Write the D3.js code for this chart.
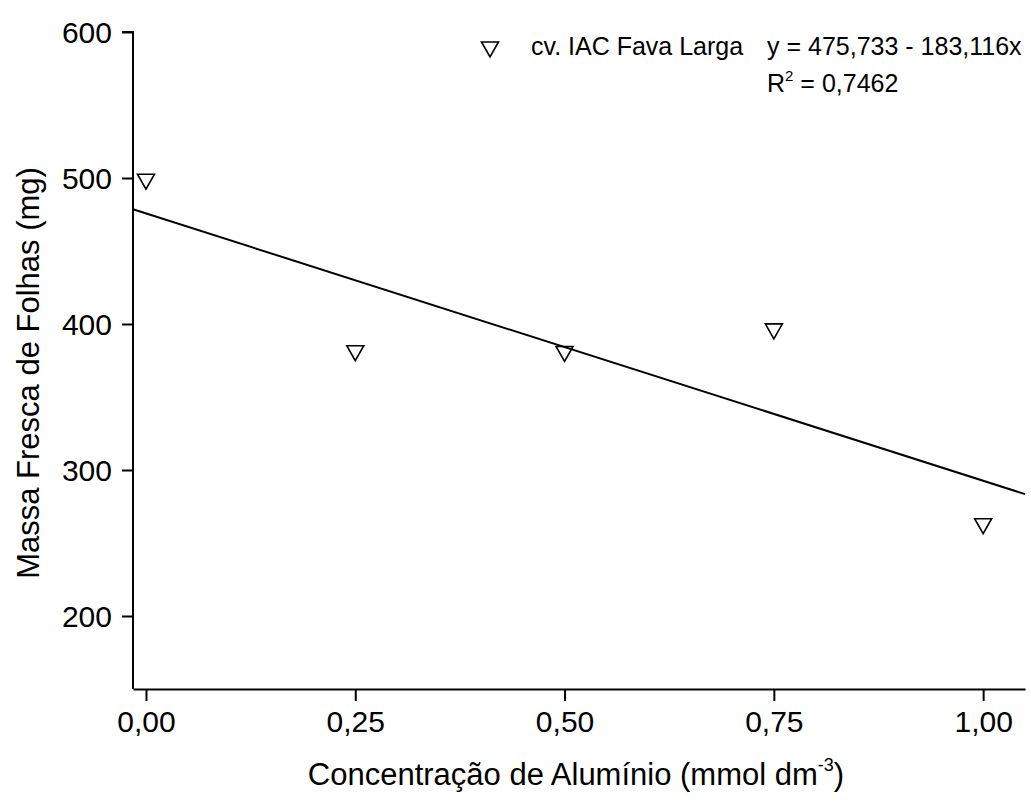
<!DOCTYPE html>
<html><head><meta charset="utf-8">
<script src="https://cdn.jsdelivr.net/npm/d3@7"></script>
<style>body{margin:0;background:#fff}svg{display:block}text{font-family:"Liberation Sans",Arial,sans-serif}</style>
</head><body>
<script>
const concentrations = [0, 0.25, 0.5, 0.75, 1.0];
const massaFresca = [498.5, 381, 380.5, 396, 262.5];
const xTicks = [0, 0.25, 0.5, 0.75, 1.0];
const yTicks = [200, 300, 400, 500, 600];
const intercept = 475.733, slope = -183.116;

const W = 1031, H = 801;
const svg = d3.select("body").append("svg").attr("width", W).attr("height", H);
const x = d3.scaleLinear().domain([-0.0155, 1.05]).range([133, 1025]);
const y = d3.scaleLinear().domain([150, 600]).range([689, 32]);
const fmt = d => d3.format(".2f")(d).replace(".", ",");

const xa = svg.append("g").attr("transform", "translate(0,689)")
  .call(d3.axisBottom(x).tickValues(xTicks).tickFormat(fmt).tickSize(12).tickSizeOuter(0));
const ya = svg.append("g").attr("transform", "translate(133,0)")
  .call(d3.axisLeft(y).tickValues(yTicks).tickFormat(d3.format("d")).tickSize(11).tickSizeOuter(0));
[xa, ya].forEach(g => {
  g.selectAll("path,line").attr("stroke", "#000").attr("stroke-width", 2);
  g.selectAll("text").style("font-size", "30px").attr("fill", "#000")
    .style("font-family", "'Liberation Sans',Arial,sans-serif");
});
xa.selectAll("text").attr("y", 43).attr("dy", 0);
ya.selectAll("text").attr("x", -21).attr("dy", "0.36em");
ya.select("path.domain").attr("d", "M0,689V32H-11");

// regression line
svg.append("line")
  .attr("x1", x(x.domain()[0])).attr("y1", y(intercept + slope * x.domain()[0]))
  .attr("x2", x(x.domain()[1])).attr("y2", y(intercept + slope * x.domain()[1]))
  .attr("stroke", "#000").attr("stroke-width", 2);

const tri = (cx, cy) => `M${cx-8.5},${cy-6}L${cx+8.5},${cy-6}L${cx},${cy+9}Z`;
svg.append("g").selectAll("path").data(concentrations).join("path")
  .attr("d", (d, i) => tri(x(d), y(massaFresca[i])))
  .attr("fill", "none").attr("stroke", "#000").attr("stroke-width", 1.6);

// legend
svg.append("path").attr("d", tri(490, 48)).attr("fill", "none").attr("stroke", "#000").attr("stroke-width", 1.6);
svg.append("text").attr("x", 531).attr("y", 55).style("font-size", "25px").text("cv. IAC Fava Larga");
svg.append("text").attr("x", 767).attr("y", 55).style("font-size", "25px").text("y = 475,733 - 183,116x");
const r2 = svg.append("text").attr("x", 767).attr("y", 92).style("font-size", "25px");
r2.append("tspan").text("R");
r2.append("tspan").style("font-size", "15px").attr("dy", -11).text("2");
r2.append("tspan").attr("dy", 11).text(" = 0,7462");

// axis titles
const xt = svg.append("text").attr("x", 576).attr("y", 785).attr("text-anchor", "middle").style("font-size", "31px");
xt.append("tspan").text("Concentração de Alumínio (mmol dm");
xt.append("tspan").style("font-size", "18px").attr("dy", -14).text("-3");
xt.append("tspan").attr("dy", 14).text(")");
svg.append("text").attr("transform", "translate(39,373) rotate(-90)").attr("text-anchor", "middle")
  .style("font-size", "31px").text("Massa Fresca de Folhas (mg)");
</script>
</body></html>
